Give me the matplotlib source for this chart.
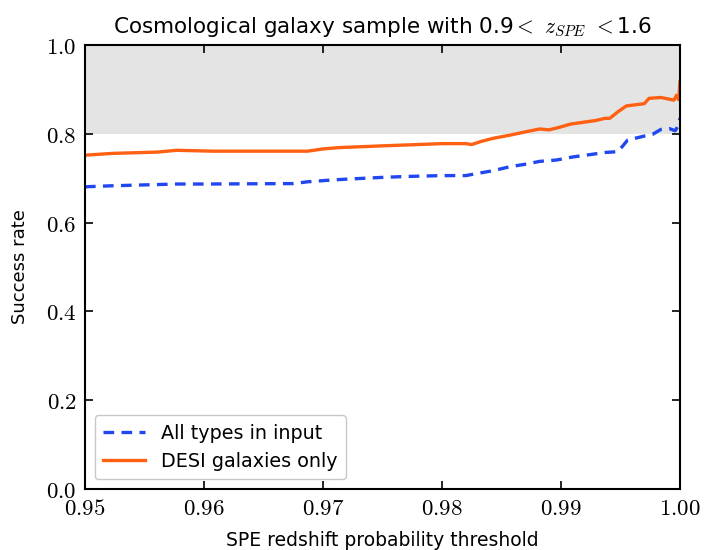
import numpy as np
import matplotlib
matplotlib.use("Agg")
import matplotlib.pyplot as plt
from matplotlib.ticker import FuncFormatter

plt.rcParams['mathtext.fontset'] = 'cm'
plt.rcParams['font.family'] = ['DejaVu Sans']

# threshold values and success rates
thr_all = [0.9500, 0.9502, 0.9522, 0.9577, 0.9600, 0.9675, 0.9687, 0.9707, 0.9720,
           0.9750, 0.9770, 0.9800, 0.9820, 0.9830, 0.9843, 0.9857, 0.9871, 0.9882,
           0.9896, 0.9910, 0.9921, 0.9929, 0.9937, 0.9948, 0.9956, 0.9970, 0.9977,
           0.9984, 0.9991, 0.9996, 0.9998, 1.0000]
rate_all = [0.680, 0.681, 0.683, 0.687, 0.687, 0.688, 0.692, 0.696, 0.698,
            0.702, 0.704, 0.706, 0.706, 0.711, 0.717, 0.726, 0.732, 0.738,
            0.741, 0.748, 0.752, 0.755, 0.758, 0.760, 0.786, 0.795, 0.799,
            0.810, 0.812, 0.807, 0.816, 0.835]

thr_desi = [0.9500, 0.9523, 0.9561, 0.9577, 0.9608, 0.9687, 0.9700, 0.9713, 0.9750,
            0.9800, 0.9820, 0.9825, 0.9833, 0.9843, 0.9857, 0.9871, 0.9882, 0.9890,
            0.9899, 0.9908, 0.9921, 0.9929, 0.9937, 0.9941, 0.9948, 0.9955, 0.9970,
            0.9974, 0.9984, 0.9995, 0.9997, 0.9999, 1.0000]
rate_desi = [0.752, 0.756, 0.759, 0.763, 0.761, 0.761, 0.766, 0.769, 0.773,
             0.778, 0.778, 0.776, 0.783, 0.790, 0.797, 0.805, 0.811, 0.809,
             0.815, 0.822, 0.827, 0.830, 0.835, 0.835, 0.850, 0.863, 0.868,
             0.880, 0.882, 0.876, 0.887, 0.877, 0.917]

fig = plt.figure(figsize=(7.18, 5.5), dpi=100)
ax = fig.add_axes([0.1184, 0.111, 0.8286, 0.807])

ax.axhspan(0.8, 1.0, color='#e4e4e4', lw=0, zorder=0)
ax.plot(thr_all, rate_all, ls='--', color='#2147f0', lw=2.4, dashes=(3.2, 2.2),
        label='All types in input')
ax.plot(thr_desi, rate_desi, ls='-', color='#ff6011', lw=2.4, label='DESI galaxies only')

ax.set_xlim(0.95, 1.0)
ax.set_ylim(0.0, 1.0)
ax.set_xticks([0.95, 0.96, 0.97, 0.98, 0.99, 1.00])
ax.set_yticks([0.0, 0.2, 0.4, 0.6, 0.8, 1.0])
ax.xaxis.set_major_formatter(FuncFormatter(lambda v, p: r'$%.2f$' % v))
ax.yaxis.set_major_formatter(FuncFormatter(lambda v, p: r'$%.1f$' % v))
ax.tick_params(direction='in', top=True, right=True, length=6, width=1.2,
               labelsize=16.5, pad=6)
for s in ax.spines.values():
    s.set_linewidth(1.5)

ax.set_xlabel('SPE redshift probability threshold', fontsize=13.5, labelpad=8)
ax.set_ylabel('Success rate', fontsize=13, labelpad=12)
ax.set_title(r'Cosmological galaxy sample with 0.9$<$ $z_{SPE}$ $<$1.6',
             fontsize=15.5, pad=9)

ax.legend(loc='lower left', fontsize=13.8, frameon=True, fancybox=True,
          edgecolor='#c8c8c8', framealpha=1, handlelength=2.2, borderpad=0.45,
          labelspacing=0.45, bbox_to_anchor=(0.0, 0.0))

fig.savefig('out.png', dpi=100)
